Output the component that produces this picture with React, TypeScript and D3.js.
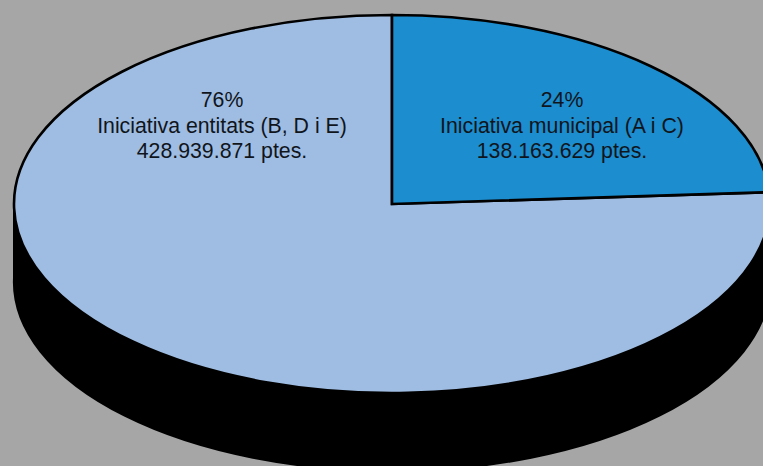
import React from "react";
import * as d3 from "d3";

const categories = ["Iniciativa municipal (A i C)", "Iniciativa entitats (B, D i E)"];
const shares = [24, 76];
const amounts = ["138.163.629 ptes.", "428.939.871 ptes."];
const colors = ["#1c8dce", "#9fbde2"];
const labelX = [562, 222];

const W = 763, H = 466;
const cx = 392, cy = 204, rx = 378, ry = 189, depth = 78;
const squash = ry / rx;

export default function App() {
  const slices = d3.pie<number>().sort(null).startAngle(0).endAngle(2 * Math.PI)(shares);
  const arc = d3.arc<d3.PieArcDatum<number>>().innerRadius(0).outerRadius(rx);
  const full = d3.arc<any>().innerRadius(0).outerRadius(rx).startAngle(0).endAngle(2 * Math.PI)({}) as string;
  return (
    <svg width={W} height={H} viewBox={`0 0 ${W} ${H}`}
      style={{ position: "fixed", left: 0, top: 0, display: "block", background: "#a6a6a6" }}>
      <g transform={`translate(${cx},${cy}) scale(1,${squash})`}>
        <path d={full} transform={`translate(0,${depth / squash})`} fill="#000" stroke="#000"
          strokeWidth={2} vectorEffect="non-scaling-stroke" />
        <rect x={-rx - 1} y={0} width={2 * rx + 2} height={depth / squash} fill="#000" />
        {[1, 0].map((i) => (
          <path key={i} d={arc(slices[i]) as string} fill={colors[i]} stroke="#000"
            strokeWidth={2.6} strokeLinejoin="miter" vectorEffect="non-scaling-stroke" />
        ))}
      </g>
      {categories.map((c, i) => (
        <text key={c} x={labelX[i]} textAnchor="middle" fill="#10151c"
          fontFamily="'Liberation Sans', sans-serif" fontSize={21.3}>
          <tspan x={labelX[i]} y={107}>{shares[i]}%</tspan>
          <tspan x={labelX[i]} y={133}>{c}</tspan>
          <tspan x={labelX[i]} y={158}>{amounts[i]}</tspan>
        </text>
      ))}
    </svg>
  );
}
